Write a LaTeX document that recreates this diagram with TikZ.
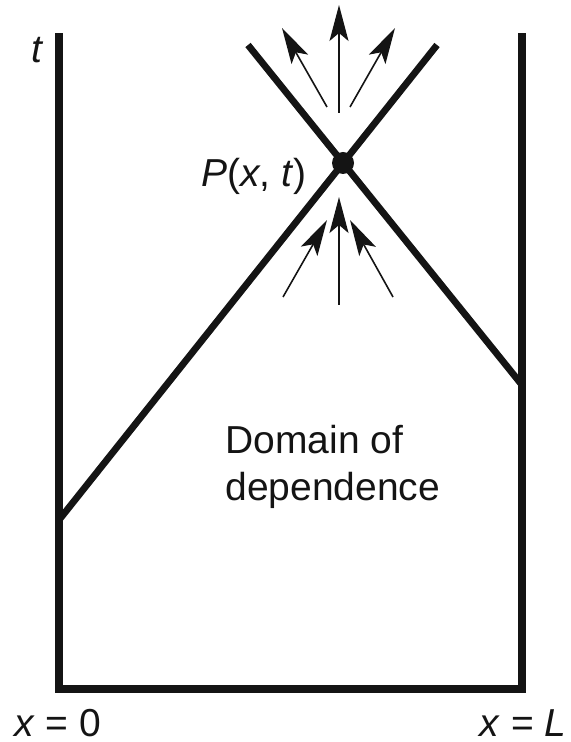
\documentclass[tikz,border=0pt]{standalone}
\usepackage{fontspec}
\setmainfont{Liberation Sans}
\usetikzlibrary{positioning,arrows.meta}
\definecolor{ddInk}{RGB}{20,20,20}
\tikzset{
    base/.style={font=\fontsize{19.5}{23.5}\selectfont, text=ddInk, inner sep=0pt},
    wall/.style={draw=ddInk, line width=4pt, line cap=rect},
    charline/.style={draw=ddInk, line width=3.4pt},
    flow/.style={-{Stealth[length=18pt, width=9.5pt, inset=4pt]}, draw=ddInk, line width=0.8pt},
    point/.style={circle, fill=ddInk, inner sep=0pt, minimum size=11pt},
    label/.style={base}
}
\begin{document}
\begin{tikzpicture}[x=0.5pt, y=-0.5pt]
  \useasboundingbox (0,0) rectangle (571,742);
  % Strip corners
  \coordinate (lt) at (59,37);
  \coordinate (lb) at (59,689);
  \coordinate (rb) at (522,689);
  \coordinate (rt) at (522,37);

  % Characteristics through P
  \coordinate (cl) at (59,520);
  \coordinate (cr) at (522,385);
  \coordinate (ul) at (248,45);
  \coordinate (ur) at (437,45);
  \draw[charline] (cl) -- (ur);
  \draw[charline] (ul) -- (cr);

  % Walls and base
  \draw[wall] (lt) -- (lb) -- (rb) -- (rt);

  \node[point] (P) at (343,163) {};
  \node[label, anchor=base east] (plabel) at (307,187) {\textit{P}(\textit{x}, \textit{t})};

  % Arrows into P
  \coordinate (ia) at (283,297);
  \coordinate (ib) at (339,305);
  \coordinate (ic) at (393,297);
  \coordinate (ta) at (327,220);
  \coordinate (tb) at (339,197);
  \coordinate (tc) at (350,220);
  \draw[flow] (ia) -- (ta);
  \draw[flow] (ib) -- (tb);
  \draw[flow] (ic) -- (tc);

  % Arrows out of P
  \coordinate (oa) at (327,107);
  \coordinate (ob) at (339,113);
  \coordinate (oc) at (350,107);
  \coordinate (ea) at (282,28);
  \coordinate (eb) at (339,5);
  \coordinate (ec) at (395,28);
  \draw[flow] (oa) -- (ea);
  \draw[flow] (ob) -- (eb);
  \draw[flow] (oc) -- (ec);

  % Labels
  \node[label, anchor=base] (tlabel) at (38,63) {\textit{t}};
  \node[label, anchor=base west] (x0) at (14,736) {\textit{x} = 0};
  \node[label, anchor=base east] (xL) at (567,736) {\textit{x} = \textit{L}};
  \node[label, anchor=base west, align=left] (domain) at (225,500) {Domain of\\dependence};
\end{tikzpicture}
\end{document}
